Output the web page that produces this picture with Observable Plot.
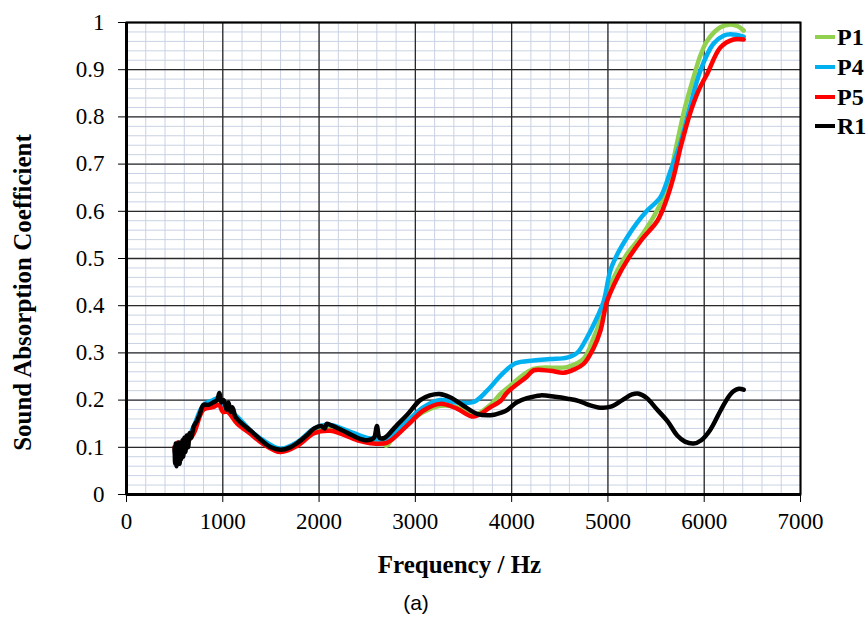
<!DOCTYPE html>
<html><head><meta charset="utf-8">
<script src="https://cdn.jsdelivr.net/npm/d3@7"></script>
<script src="https://cdn.jsdelivr.net/npm/@observablehq/plot@0.6"></script>
<style>
body{margin:0;background:#fff;}
#wrap{position:relative;width:866px;height:621px;background:#fff;overflow:hidden;}
.leg{position:absolute;left:815px;font-family:"Liberation Serif",serif;font-weight:bold;font-size:24px;line-height:24px;display:flex;align-items:center;}
.leg span.sw{display:inline-block;width:20px;height:4px;margin-right:2px;}
#cap{position:absolute;top:591px;left:0;width:832px;text-align:center;font-family:"Liberation Sans",Arial,sans-serif;font-size:21px;}
</style></head><body><div id="wrap"></div>
<script>
// ---- data ----
const seriesNames = ["P1", "P4", "P5", "R1"];
const seriesColors = ["#92d050", "#00b0f0", "#ff0000", "#000000"];

const p1Freq = [500,540,600,700,800,900,960,1050,1150,1290,1420,1600,1780,1950,2100,2300,2500,2650,2700,2750,2914,3085,3260,3432,3606,3780,3884,3953,4228,4575,4749,4839,4922,5000,5099,5200,5337,5450,5545,5650,5701,5800,5888,5960,6033,6168,6272,6350,6410];
const p1Val  = [0.095,0.075,0.10,0.14,0.185,0.195,0.20,0.18,0.16,0.13,0.11,0.093,0.107,0.133,0.14,0.128,0.112,0.11,0.103,0.115,0.15,0.175,0.188,0.185,0.168,0.19,0.213,0.225,0.266,0.27,0.288,0.326,0.37,0.43,0.475,0.51,0.545,0.58,0.616,0.68,0.729,0.82,0.883,0.93,0.962,0.99,0.996,0.992,0.983];

const p4Freq = [500,520,545,570,600,640,700,800,900,960,1000,1050,1150,1290,1420,1600,1780,1950,2100,2300,2500,2700,2914,3085,3260,3432,3606,3745,3900,4040,4228,4400,4575,4680,4784,4887,4957,5026,5100,5200,5300,5410,5545,5650,5753,5850,5960,6095,6200,6272,6410];
const p4Val  = [0.095,0.07,0.10,0.08,0.11,0.12,0.145,0.19,0.20,0.205,0.19,0.18,0.165,0.135,0.115,0.097,0.112,0.14,0.148,0.135,0.12,0.118,0.155,0.185,0.20,0.195,0.196,0.22,0.255,0.278,0.284,0.287,0.29,0.30,0.333,0.375,0.41,0.475,0.51,0.545,0.575,0.602,0.63,0.686,0.745,0.82,0.898,0.955,0.972,0.975,0.97];

const p5Freq = [500,515,530,560,600,700,800,900,960,1000,1050,1150,1290,1420,1600,1780,1950,2118,2223,2400,2568,2707,2914,3085,3260,3432,3606,3780,3884,3953,4160,4228,4400,4540,4650,4749,4850,4922,4992,5100,5200,5350,5514,5600,5680,5760,5857,5950,6033,6168,6303,6410];
const p5Val  = [0.10,0.07,0.11,0.075,0.10,0.13,0.18,0.185,0.19,0.175,0.175,0.15,0.128,0.107,0.09,0.104,0.13,0.135,0.129,0.115,0.108,0.11,0.146,0.178,0.192,0.182,0.165,0.185,0.198,0.216,0.25,0.263,0.262,0.258,0.265,0.277,0.31,0.347,0.41,0.46,0.496,0.54,0.58,0.62,0.672,0.74,0.81,0.86,0.892,0.947,0.964,0.964];

const r1Freq = [500,505,512,520,528,536,545,553,562,570,580,590,600,612,625,640,655,670,700,730,760,800,850,900,940,965,985,1010,1040,1060,1080,1100,1130,1150,1200,1290,1400,1500,1600,1700,1780,1870,1950,2020,2060,2080,2120,2200,2300,2400,2500,2570,2600,2630,2680,2800,2920,3050,3150,3250,3360,3500,3640,3780,3900,3960,4050,4160,4300,4450,4580,4700,4800,4920,5030,5150,5250,5310,5400,5510,5620,5720,5800,5890,5970,6060,6170,6240,6300,6360,6410];
const r1Val  = [0.10,0.065,0.108,0.06,0.10,0.07,0.11,0.065,0.105,0.075,0.115,0.08,0.12,0.09,0.125,0.10,0.13,0.12,0.145,0.155,0.17,0.19,0.19,0.195,0.20,0.215,0.195,0.20,0.18,0.195,0.175,0.185,0.165,0.16,0.15,0.135,0.115,0.10,0.095,0.10,0.11,0.125,0.14,0.145,0.14,0.15,0.147,0.14,0.13,0.12,0.115,0.12,0.145,0.12,0.12,0.145,0.17,0.20,0.21,0.213,0.206,0.188,0.171,0.168,0.174,0.18,0.195,0.204,0.21,0.207,0.203,0.198,0.19,0.184,0.186,0.20,0.212,0.214,0.205,0.18,0.155,0.125,0.112,0.108,0.115,0.136,0.178,0.203,0.218,0.224,0.222];

const xMajorTicks = [0,1000,2000,3000,4000,5000,6000,7000];
const yMajorTicks = [0,0.1,0.2,0.3,0.4,0.5,0.6,0.7,0.8,0.9,1];
const xMinorTicks = d3.range(0, 7001, 200);
const yMinorTicks = d3.range(0, 51).map(i => i * 0.02);

const xLabel = "Frequency / Hz";
const yLabel = "Sound Absorption Coefficient";
const caption = "(a)";

// ---- build rows ----
const freqs = [p1Freq, p4Freq, p5Freq, r1Freq];
const vals = [p1Val, p4Val, p5Val, r1Val];
const rows = [];
seriesNames.forEach((s, i) => freqs[i].forEach((f, j) => rows.push({series: s, f, v: vals[i][j]})));

const SERIF = "Liberation Serif";

const chart = Plot.plot({
  width: 866, height: 585,
  marginLeft: 126, marginRight: 66, marginTop: 22, marginBottom: 91,
  x: {domain: [0, 7000]},
  y: {domain: [0, 1]},
  color: {domain: seriesNames, range: seriesColors},
  style: {fontFamily: SERIF, fontSize: "23px", color: "#000", background: "#fff"},
  marks: [
    Plot.ruleX(xMinorTicks, {stroke: "#c9d2e3", strokeWidth: 1}),
    Plot.ruleY(yMinorTicks, {stroke: "#c9d2e3", strokeWidth: 1}),
    Plot.ruleX(xMajorTicks, {stroke: "#2a2a2a", strokeWidth: 1.3}),
    Plot.ruleY(yMajorTicks, {stroke: "#2a2a2a", strokeWidth: 1.3}),
    Plot.line(rows, {x: "f", y: "v", z: "series", stroke: "series", strokeWidth: 4.5, curve: "catmull-rom", strokeLinejoin: "round"}),
    Plot.axisX({ticks: xMajorTicks, tickFormat: d => String(d), tickSize: 8, tickPadding: 10, label: null, fontSize: 23, fontFamily: SERIF}),
    Plot.axisY({ticks: yMajorTicks, tickFormat: d => String(d), tickSize: 8, tickPadding: 14, label: null, fontSize: 23, fontFamily: SERIF}),
    Plot.frame({stroke: "#000", strokeWidth: 2}),
    Plot.ruleX([0], {stroke: "#000", strokeWidth: 3}),
    Plot.ruleY([0], {stroke: "#000", strokeWidth: 3}),
    Plot.text([xLabel], {frameAnchor: "bottom", dx: -4, dy: 78, fontWeight: "bold", fontSize: 25, fontFamily: SERIF}),
    Plot.text([yLabel], {frameAnchor: "left", textAnchor: "middle", rotate: -90, dx: -104, dy: 34, fontWeight: "bold", fontSize: 25, fontFamily: SERIF})
  ]
});

d3.select(chart).selectAll("text").style("font-family", "'Liberation Serif', 'Times New Roman', serif");

const wrap = document.getElementById("wrap");
wrap.appendChild(chart);

const legTops = [25, 55, 85, 114];
seriesNames.forEach((s, i) => {
  const d = document.createElement("div");
  d.className = "leg";
  d.style.top = legTops[i] + "px";
  d.innerHTML = `<span class="sw" style="background:${seriesColors[i]}"></span>${s}`;
  wrap.appendChild(d);
});
const c = document.createElement("div");
c.id = "cap";
c.textContent = caption;
wrap.appendChild(c);
</script>
</body></html>
